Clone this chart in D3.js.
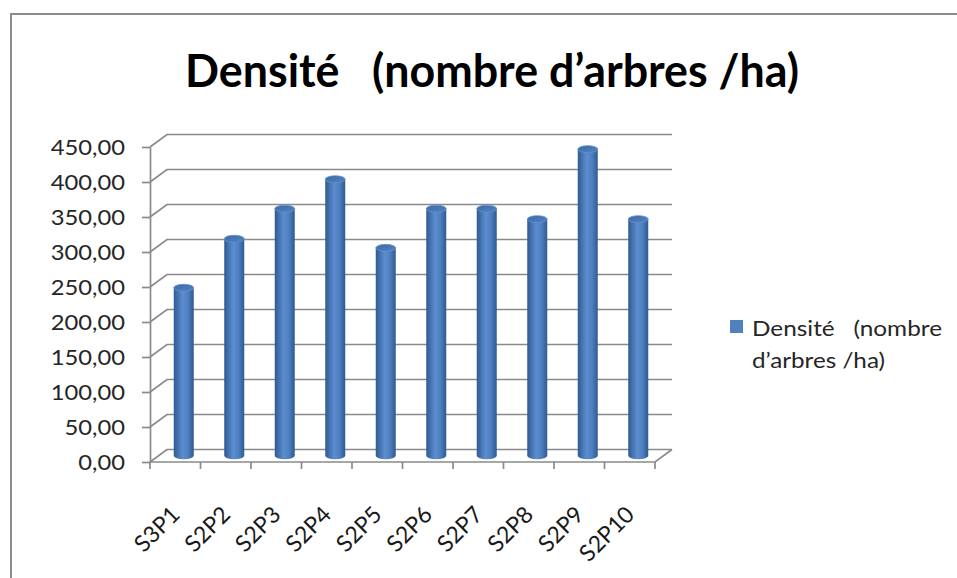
<!DOCTYPE html>
<html>
<head>
<meta charset="utf-8">
<script src="https://cdn.jsdelivr.net/npm/d3@7"></script>
<style>
  body { margin: 0; background: #fff; }
  svg text { white-space: pre; }
</style>
</head>
<body>
<svg id="chart"></svg>
<script>
(function () {
var width = 957, height = 578
var svg = d3.select('#chart')
            .attr('width', width)
            .attr('height', height)

// data
var categories = ['S3P1', 'S2P2', 'S2P3', 'S2P4', 'S2P5', 'S2P6', 'S2P7', 'S2P8', 'S2P9', 'S2P10']
var densite = [240, 310, 353, 395, 297, 353, 353, 338, 438, 338]
var yTicks = [0, 50, 100, 150, 200, 250, 300, 350, 400, 450]
var title = 'Densité   (nombre d\u2019arbres /ha)'
var legendLines = ['Densité   (nombre', 'd\u2019arbres /ha)']

var fr = d3.formatLocale({decimal: ',', thousands: ' ', grouping: [3], currency: ['', ' €']})
var fmt = fr.format('.2f')

var grid = '#8a8a8a'
var font = 'Lato, "Open Sans", sans-serif'

// 3d depth offset of the back wall
var dx = 17, dy = -12.5

var x = d3.scaleBand().domain(categories).range([150, 655])
var y = d3.scaleLinear().domain([0, 450]).range([462, 147])

// the original font is a bit wider than Lato, stretch texts a little
function widen(sel, k) {
    sel.each(function () {
        var w = this.getComputedTextLength()
        d3.select(this).attr('textLength', w * k).attr('lengthAdjust', 'spacingAndGlyphs')
    })
}

// outer frame
svg.append('path')
    .attr('d', 'M11,' + height + ' L11,14 L' + width + ',14')
    .attr('fill', 'none')
    .attr('stroke', '#8c8c8c')
    .attr('stroke-width', 2)

// title
svg.append('text')
    .attr('x', 492)
    .attr('y', 87)
    .attr('text-anchor', 'middle')
    .attr('textLength', 614)
    .attr('lengthAdjust', 'spacingAndGlyphs')
    .style('font', 'bold 45px ' + font)
    .style('fill', '#000')
    .text(title)

// back wall gridlines + side wall
var gl = svg.append('g').attr('fill', 'none').attr('stroke', grid).attr('stroke-width', 1.7)
yTicks.forEach(function (v) {
    var yy = y(v)
    gl.append('path')
      .attr('d', 'M' + x.range()[0] + ',' + yy + ' L' + (x.range()[0] + dx) + ',' + (yy + dy) +
                 ' L' + (x.range()[1] + dx) + ',' + (yy + dy))
})
// floor
var x0 = x.range()[0], x1 = x.range()[1], y0 = y(0)
gl.append('path')
  .attr('d', 'M' + x0 + ',' + y0 + ' L' + x1 + ',' + y0 + ' L' + (x1 + dx) + ',' + (y0 + dy))

// y axis (front left edge)
var yAxis = svg.append('g')
    .attr('transform', 'translate(' + x0 + ',0)')
    .call(d3.axisLeft(y).tickValues(yTicks).tickFormat(fmt).tickSize(8).tickSizeOuter(0).tickPadding(17))
yAxis.select('.domain').attr('stroke', grid).attr('stroke-width', 1.7)
yAxis.selectAll('.tick line').attr('stroke', grid).attr('stroke-width', 1.7)
yAxis.selectAll('.tick text')
    .style('font', '22px ' + font)
    .style('fill', '#262626')
    .call(widen, 1.08)

// category boundary ticks
var bounds = categories.map(function (c) { return x(c) }).concat([x1])
svg.append('g').selectAll('line')
    .data(bounds)
    .enter().append('line')
    .attr('x1', d => d).attr('x2', d => d)
    .attr('y1', y0).attr('y2', y0 + 7)
    .attr('stroke', grid).attr('stroke-width', 1.7)

// category labels rotated
svg.append('g').selectAll('text')
    .data(categories)
    .enter().append('text')
    .attr('transform', d => 'translate(' + (x(d) + x.bandwidth() / 2 + 6) + ',' + (y0 + 54) + ') rotate(-45)')
    .attr('text-anchor', 'end')
    .style('font', '23px ' + font)
    .style('fill', '#1a1a1a')
    .text(d => d)

// cylinder gradients
var defs = svg.append('defs')
var g1 = defs.append('linearGradient').attr('id', 'cyl').attr('x1', 0).attr('x2', 1).attr('y1', 0).attr('y2', 0)
;[[0, '#2c5a90'], [0.18, '#426fab'], [0.45, '#5b8ed0'], [0.7, '#4f80c0'], [1, '#2d5b92']].forEach(function (s) {
    g1.append('stop').attr('offset', s[0]).attr('stop-color', s[1])
})
var g2 = defs.append('linearGradient').attr('id', 'cyltop').attr('x1', 0).attr('x2', 1).attr('y1', 0).attr('y2', 1)
;[[0, '#3a6aa5'], [1, '#5384c2']].forEach(function (s) {
    g2.append('stop').attr('offset', s[0]).attr('stop-color', s[1])
})

var rx = 10, ry = 3.5
var bars = svg.append('g').selectAll('g')
    .data(categories.map((c, i) => ({cat: c, value: densite[i]})))
    .enter().append('g')

function cx(d) { return x(d.cat) + x.bandwidth() / 2 + dx / 2 }
function yb(v) { return y(v) + dy / 2 }

bars.append('path')
    .attr('d', function (d) {
        var c = cx(d), top = yb(d.value), bot = yb(0)
        return 'M' + (c - rx) + ',' + top + ' L' + (c - rx) + ',' + bot +
               ' A' + rx + ',' + ry + ' 0 0 0 ' + (c + rx) + ',' + bot +
               ' L' + (c + rx) + ',' + top + ' Z'
    })
    .attr('fill', 'url(#cyl)')

bars.append('ellipse')
    .attr('cx', cx)
    .attr('cy', d => yb(d.value))
    .attr('rx', rx)
    .attr('ry', ry)
    .attr('fill', 'url(#cyltop)')
    .attr('stroke', '#6592cc')
    .attr('stroke-width', 0.8)

// legend
var lg = svg.append('g')
lg.append('rect')
    .attr('x', 730).attr('y', 320)
    .attr('width', 13).attr('height', 13)
    .attr('fill', '#4f81bd')
lg.selectAll('text')
    .data(legendLines)
    .enter().append('text')
    .attr('x', 752)
    .attr('y', (d, i) => 336 + i * 32)
    .attr('textLength', (d, i) => [190, 133][i])
    .attr('lengthAdjust', 'spacingAndGlyphs')
    .style('font', '22px ' + font)
    .style('fill', '#262626')
    .text(d => d)
})();
</script>
</body>
</html>
